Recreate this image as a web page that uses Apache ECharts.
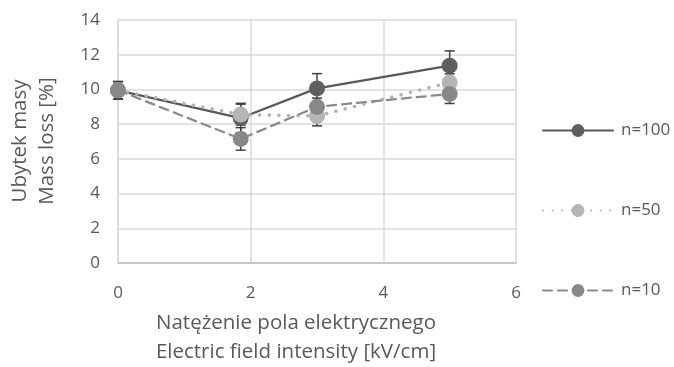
<!DOCTYPE html>
<html>
<head>
<meta charset="utf-8">
<script src="https://cdn.jsdelivr.net/npm/echarts@6/dist/echarts.min.js"></script>
<style>
  html, body { margin: 0; padding: 0; background: #fff; }
  #chart { width: 674px; height: 367px; }
</style>
</head>
<body>
<div id="chart"></div>
<script>
// Field intensity [kV/cm] at which the samples were measured
const fieldValues = [0, 1.85, 3, 5];

// Mass loss [%] for each number of cycles
const n100 = [9.95, 8.35, 10.06, 11.37];
const n50 = [9.95, 8.55, 8.47, 10.4];
const n10 = [9.95, 7.15, 9.0, 9.74];

// Half-width of the error bars [%]
const n100Err = [0.5, 0.85, 0.85, 0.85];
const n50Err = [0.5, 0.6, 0.57, 0.5];
const n10Err = [0.5, 0.65, 0.5, 0.55];

const seriesNames = ['n=100', 'n=50', 'n=10'];
const yTicks = [0, 2, 4, 6, 8, 10, 12, 14];
const xTicks = [0, 2, 4, 6];

const FONT = '"Open Sans", sans-serif';
const TITLE_FONT = '20.5px "Open Sans", sans-serif';
const TEXT = '#595959';

function pairs(vals) {
  return fieldValues.map((x, i) => [x, vals[i]]);
}

function errorData(vals, errs) {
  return fieldValues.map((x, i) => [x, vals[i] - errs[i], vals[i] + errs[i]]);
}

function errorSeries(vals, errs) {
  return {
    type: 'custom',
    silent: true,
    z: 3,
    data: errorData(vals, errs),
    encode: { x: 0, y: [1, 2] },
    renderItem(params, api) {
      const lo = api.coord([api.value(0), api.value(1)]);
      const hi = api.coord([api.value(0), api.value(2)]);
      const half = 5;
      const style = { stroke: '#404040', lineWidth: 1.5 };
      return {
        type: 'group',
        children: [
          { type: 'line', shape: { x1: lo[0], y1: lo[1], x2: hi[0], y2: hi[1] }, style },
          { type: 'line', shape: { x1: lo[0] - half, y1: lo[1], x2: lo[0] + half, y2: lo[1] }, style },
          { type: 'line', shape: { x1: hi[0] - half, y1: hi[1], x2: hi[0] + half, y2: hi[1] }, style }
        ]
      };
    }
  };
}

function lineSeries(name, vals, lineColor, markerColor, lineType, width, z) {
  return {
    name,
    type: 'line',
    z,
    data: pairs(vals),
    symbol: 'circle',
    symbolSize: 16,
    lineStyle: { color: lineColor, width, type: lineType, cap: 'round' },
    itemStyle: { color: markerColor, borderWidth: 0 },
    emphasis: { disabled: true }
  };
}

const chart = echarts.init(document.getElementById('chart'), null, { renderer: 'canvas' });

chart.setOption({
  animation: false,
  backgroundColor: '#ffffff',
  textStyle: { fontFamily: FONT },
  grid: { left: 118, right: 158, top: 20, bottom: 104, containLabel: false },
  xAxis: {
    type: 'value',
    min: xTicks[0],
    max: xTicks[xTicks.length - 1],
    interval: 2,
    axisLine: { show: true, lineStyle: { color: '#bfbfbf', width: 1.5 } },
    axisTick: { show: false },
    axisLabel: { color: TEXT, fontSize: 17, margin: 22, fontFamily: FONT },
    splitLine: { show: true, lineStyle: { color: '#d9d9d9', width: 1.5 } }
  },
  yAxis: {
    type: 'value',
    min: yTicks[0],
    max: yTicks[yTicks.length - 1],
    interval: 2,
    axisLine: { show: true, lineStyle: { color: '#d9d9d9', width: 1.5 } },
    axisTick: { show: false },
    axisLabel: { color: TEXT, fontSize: 17, margin: 18, fontFamily: FONT },
    splitLine: { show: true, lineStyle: { color: '#d9d9d9', width: 1.5 } }
  },
  legend: {
    orient: 'vertical',
    left: 537,
    top: 117,
    itemWidth: 70,
    itemHeight: 16,
    itemGap: 63,
    data: seriesNames,
    textStyle: { color: TEXT, fontSize: 17, fontFamily: FONT, padding: [0, 0, 0, 3] }
  },
  graphic: [
    {
      type: 'text',
      x: 296, y: 323,
      style: { text: 'Natężenie pola elektrycznego', fill: TEXT, font: TITLE_FONT, align: 'center', verticalAlign: 'middle' }
    },
    {
      type: 'text',
      x: 296, y: 352,
      style: { text: 'Electric field intensity [kV/cm]', fill: TEXT, font: TITLE_FONT, align: 'center', verticalAlign: 'middle' }
    },
    {
      type: 'text',
      x: 20, y: 141, rotation: Math.PI / 2,
      style: { text: 'Ubytek masy', fill: TEXT, font: TITLE_FONT, align: 'center', verticalAlign: 'middle' }
    },
    {
      type: 'text',
      x: 47, y: 141, rotation: Math.PI / 2,
      style: { text: 'Mass loss [%]', fill: TEXT, font: TITLE_FONT, align: 'center', verticalAlign: 'middle' }
    }
  ],
  series: [
    lineSeries(seriesNames[0], n100, '#595959', '#5f5f5f', 'solid', 2.25, 4),
    lineSeries(seriesNames[1], n50, '#b3b3b3', '#b5b5b5', [0.1, 9.5], 3.5, 5),
    lineSeries(seriesNames[2], n10, '#8a8a8a', '#888888', [9, 6], 2.25, 6),
    errorSeries(n100, n100Err),
    errorSeries(n50, n50Err),
    errorSeries(n10, n10Err)
  ]
});
</script>
</body>
</html>
